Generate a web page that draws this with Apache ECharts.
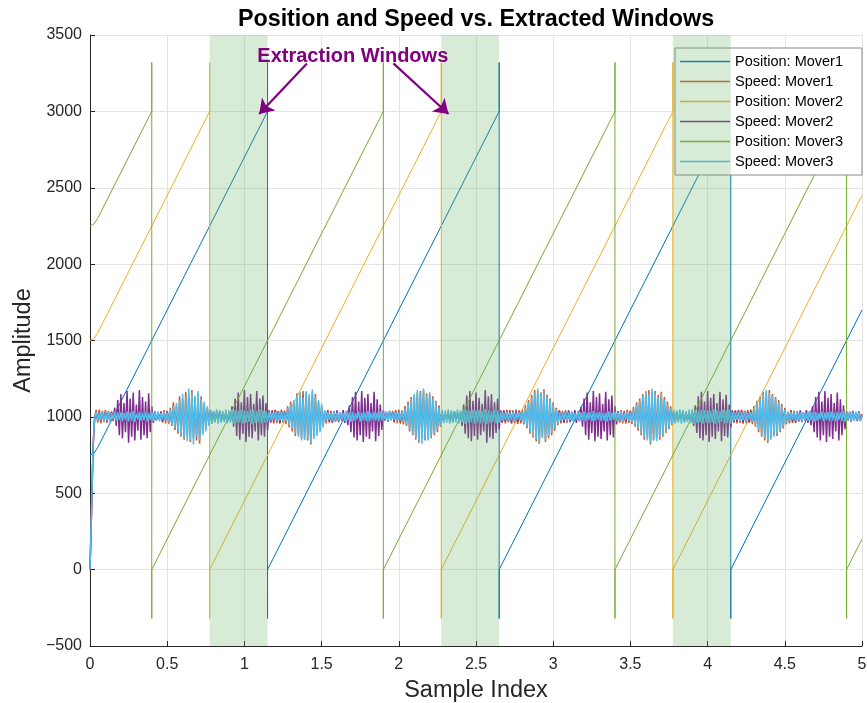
<!DOCTYPE html>
<html><head><meta charset="utf-8">
<script src="https://cdn.jsdelivr.net/npm/echarts@6/dist/echarts.min.js"></script>
<style>html,body{margin:0;padding:0;background:#fff}#c{width:867px;height:703px}</style>
</head><body><div id="c"></div>
<script>
// ---------------- data ----------------
const titleText = 'Position and Speed vs. Extracted Windows';
const xName = 'Sample Index';
const yName = 'Amplitude';
const seriesNames = ['Position: Mover1','Speed: Mover1','Position: Mover2','Speed: Mover2','Position: Mover3','Speed: Mover3'];
const xTicks = {min: 0, max: 5, interval: 0.5};
const yTicks = {min: -500, max: 3500, interval: 500};

// position sawtooth vertices [x, value]
const pos1 = [[0,750],[0.025,762],[0.05,800],[1.15,3000],[1.15,3320],[1.15,-320],[1.15,0],[2.65,3000],[2.65,3320],[2.65,-320],[2.65,0],[4.15,3000],[4.15,3320],[4.15,-320],[4.15,0],[5,1700]];
const pos2 = [[0,1500],[0.025,1512],[0.05,1550],[0.775,3000],[0.775,3320],[0.775,-320],[0.775,0],[2.275,3000],[2.275,3320],[2.275,-320],[2.275,0],[3.775,3000],[3.775,3320],[3.775,-320],[3.775,0],[5,2450]];
const pos3 = [[0,2250],[0.025,2262],[0.05,2300],[0.4,3000],[0.4,3320],[0.4,-320],[0.4,0],[1.9,3000],[1.9,3320],[1.9,-320],[1.9,0],[3.4,3000],[3.4,3320],[3.4,-320],[3.4,0],[4.9,3000],[4.9,3320],[4.9,-320],[4.9,0],[5,200]];

// speed samples, one every sampleStep on the x axis
const sampleStep = 0.01;
const speed1 = [
0,390,810,1000,1045,962,1048,958,1040,966,1044,960,1038,968,1035,972,1030,975,1028,978,
1015,986,1010,992,1018,983,1012,990,1009,987,1016,991,1011,984,1014,989,1020,980,1013,993,
1010,986,1017,982,1012,991,1038,962,1044,958,1040,955,1060,940,1095,915,1070,890,1135,870,
1120,850,1165,870,1150,835,1175,860,1125,845,1150,825,1135,890,1080,915,1060,950,1045,955,
1020,982,1016,986,1012,990,1018,984,1010,992,1015,987,1011,989,1017,983,1013,991,1009,986,
1016,990,1012,985,1018,988,1011,992,1014,984,1010,989,1017,986,1013,990,1040,962,1044,958,
1046,960,1038,955,1048,962,1042,952,1070,930,1100,905,1090,875,1155,885,1140,860,1170,850,
1160,845,1130,820,1165,870,1150,890,1095,915,1070,945,1040,958,1044,962,1040,965,1036,968,
1032,972,1015,990,1010,986,1017,983,1012,991,1018,985,1011,988,1016,984,1013,990,1019,982,
1012,989,1016,985,1010,992,1018,983,1014,988,1011,986,1017,990,1013,984,1040,962,1045,958,
1048,955,1042,950,1070,940,1100,905,1130,880,1140,850,1160,830,1170,860,1175,845,1155,855,
1150,860,1135,880,1105,900,1075,935,1018,985,1012,990,1016,984,1011,988,1015,986,1010,991,
1010,991,1017,983,1013,989,1018,985,1012,990,1016,984,1011,988,1014,986,1019,982,1010,991,
1015,987,1012,989,1017,984,1040,962,1044,958,1038,965,1046,956,1042,960,1048,954,1043,958,
1047,950,1075,925,1110,890,1145,865,1175,840,1170,825,1160,870,1180,835,1145,860,1120,880,
1095,910,1060,945,1045,957,1040,962,1044,960,1036,968,1016,985,1012,990,1018,984,1011,988,
1015,986,1010,991,1017,983,1013,989,1018,985,1012,990,1016,984,1011,988,1014,986,1019,982,
1013,990,1038,962,1044,958,1040,955,1046,960,1042,952,1065,935,1095,910,1120,880,1150,850,
1165,860,1175,820,1160,845,1170,855,1145,850,1165,870,1130,895,1100,920,1070,945,1020,983,
1015,988,1012,990,1017,984,1011,989,1016,986,1010,991,1018,983,1013,988,1012,990,1017,985,
1011,989,1015,986,1010,991,1018,983,1013,988,1016,984,1012,990,1014,987,1040,962,1045,958,
1042,960,1047,955,1040,958,1044,962,1048,952,1070,935,1105,900,1135,870,1165,845,1160,830,
1175,860,1150,880,1130,875,1110,900,1085,925,1060,950,1035,958,1045,960,1040,964,1036,968,
1016,986,1012,990,1017,983,1011,989,1015,987,1010,992,1018,984,1013,988,1016,985,1012,990,
1017,983,1011,989,1015,986,1010,991,1018,984,1013,988,1012,990,1016,985,1011,989,1027,972,
1020];
const speed2 = [
0,380,800,985,1020,985,1028,978,1018,990,1031,975,1024,986,1033,979,1060,940,1110,880,
1150,860,1090,900,1170,830,1120,870,1160,845,1080,910,1175,850,1130,880,1100,860,1155,900,
1070,960,1036,975,1022,984,1030,970,1019,988,1034,978,1025,966,1038,982,1021,973,1032,986,
1027,970,1035,980,1018,975,1031,987,1024,968,1037,979,1020,985,1033,972,1026,981,1029,969,
1034,977,1021,986,1036,970,1025,983,1030,974,1019,980,1070,935,1120,875,1160,850,1095,890,
1175,835,1130,870,1150,860,1085,905,1170,845,1120,880,1140,870,1090,915,1042,965,1038,972,
1045,968,1036,962,1040,975,1033,966,1039,970,1028,978,1035,984,1022,975,1031,988,1026,971,
1034,980,1020,986,1037,973,1025,968,1032,983,1038,976,1021,985,1040,970,1028,962,1035,978,
1042,966,1030,975,1044,960,1036,945,1075,900,1130,865,1165,845,1100,880,1170,835,1125,870,
1150,855,1090,905,1165,840,1115,875,1080,915,1045,975,1034,968,1040,980,1028,972,1036,985,
1025,970,1033,982,1019,976,1031,987,1024,969,1037,980,1020,985,1033,973,1026,981,1029,968,
1034,977,1021,986,1036,970,1025,983,1030,974,1019,988,1032,975,1024,966,1038,982,1021,973,
1032,940,1080,890,1140,860,1170,840,1105,875,1160,850,1125,880,1085,905,1175,830,1135,865,
1150,855,1095,895,1120,920,1042,965,1038,972,1045,968,1036,962,1040,975,1033,966,1039,970,
1028,978,1035,984,1022,975,1031,988,1026,971,1034,980,1020,986,1037,973,1025,968,1032,983,
1038,976,1021,985,1040,970,1028,962,1035,978,1042,966,1030,975,1044,960,1036,970,1065,935,
1120,880,1160,850,1095,895,1170,840,1130,870,1155,855,1085,905,1165,845,1115,880,1140,865,
1070,950,1036,975,1022,984,1030,970,1019,988,1034,978,1025,966,1038,982,1021,973,1032,986,
1027,970,1035,980,1018,975,1031,987,1024,968,1037,979,1020,985,1033,972,1026,981,1029,969,
1034,977,1021,986,1036,970,1025,983,1030,974,1019,940,1075,895,1135,860,1165,845,1100,880,
1170,835,1125,870,1150,855,1090,905,1165,840,1115,875,1145,865,1080,930,1042,965,1038,972,
1045,968,1036,962,1040,975,1033,966,1039,970,1028,978,1035,984,1022,975,1031,988,1026,971,
1034,980,1020,986,1037,973,1025,968,1032,983,1038,976,1021,985,1040,970,1028,962,1035,978,
1042,966,1030,975,1044,960,1036,945,1070,900,1130,865,1165,845,1100,880,1170,835,1125,870,
1150,855,1090,905,1160,845,1115,880,1075,920,1040,975,1034,968,1040,980,1028,972,1036,985,
1004];
const speed3 = [
0,400,820,990,1032,976,1026,981,1035,972,1028,978,1031,969,1024,984,1036,974,1027,980,
1030,973,1025,982,1034,970,1029,976,1037,968,1023,983,1032,975,1028,979,1035,971,1026,980,
1033,974,1029,977,1036,970,1024,983,1031,972,1028,966,1050,950,1075,930,1090,905,1110,880,
1150,860,1130,840,1185,850,1160,820,1140,870,1170,845,1120,880,1100,905,1070,940,1046,958,
1040,963,1049,955,1043,961,1038,966,1047,957,1041,962,1050,954,1044,960,1039,965,1048,956,
1042,961,1037,967,1051,953,1045,959,1040,964,1048,957,1043,962,1038,966,1032,975,1027,980,
1034,971,1029,977,1036,970,1030,968,1060,945,1080,925,1110,890,1140,870,1165,845,1125,850,
1170,860,1150,830,1180,855,1135,875,1110,900,1085,930,1045,975,1031,980,1026,972,1035,977,
1028,970,1033,982,1025,974,1036,979,1029,968,1032,976,1024,983,1035,971,1027,978,1030,973,
1037,969,1026,981,1033,975,1028,972,1034,978,1025,984,1031,970,1036,976,1027,980,1032,972,
1029,977,1035,968,1055,950,1085,920,1115,885,1150,860,1175,840,1160,825,1185,855,1140,845,
1165,870,1120,890,1095,915,1060,945,1045,959,1041,962,1049,956,1043,960,1038,965,1047,957,
1042,963,1050,954,1044,961,1039,966,1048,955,1041,962,1046,958,1040,964,1051,953,1043,960,
1038,967,1047,957,1042,961,1031,976,1026,981,1034,970,1028,978,1035,972,1025,983,1032,975,
1036,960,1065,935,1095,905,1130,875,1160,850,1185,830,1150,860,1170,845,1130,875,1110,895,
1080,925,1050,955,1030,976,1027,981,1034,971,1029,977,1036,969,1025,983,1032,974,1028,979,
1035,972,1026,980,1031,970,1037,976,1028,982,1033,973,1024,978,1030,969,1036,975,1027,981,
1032,972,1029,977,1035,970,1026,983,1031,974,1028,966,1050,945,1080,925,1105,890,1140,865,
1170,845,1150,830,1185,855,1160,840,1130,865,1155,880,1115,905,1085,930,1055,955,1047,957,
1041,962,1049,955,1044,960,1038,966,1046,958,1050,953,1043,961,1039,965,1048,956,1042,963,
1045,959,1040,964,1051,954,1044,960,1037,967,1047,957,1042,961,1049,955,1031,976,1027,980,
1034,971,1029,978,1036,969,1025,982,1031,968,1055,945,1090,915,1120,880,1150,860,1175,840,
1160,850,1140,870,1120,890,1095,910,1070,935,1045,960,1030,974,1033,979,1027,972,1035,977,
1028,970,1032,981,1026,974,1036,978,1029,969,1033,976,1025,982,1034,971,1028,979,1031,973,
1035,977,1027,970,1032,980,1029,974,1036,968,1026,981,1033,975,1028,972,1034,978,1030,976,
1004];

// extraction windows [start, end] and annotation
const windows = [[0.775,1.15],[2.275,2.65],[3.775,4.15]];
const annotationText = 'Extraction Windows';
const annotationAt = [1.702, 3358];
const arrows = [[[1.405,3314],[1.096,2983]],[[1.965,3314],[2.322,2983]]];

// ---------------- chart ----------------
const colors = ['#0072BD','#D95319','#EDB120','#7E2F8E','#77AC30','#4DBEEE'];
const widths = [1, 1.5, 1, 1.5, 1, 1.5];
const toXY = arr => arr.map((v, i) => [+(i * sampleStep).toFixed(4), v]);
const seriesData = [pos1, toXY(speed1), pos2, toXY(speed2), pos3, toXY(speed3)];
const font = 'Liberation Sans, Arial, Helvetica, sans-serif';
const ink = '#262626';
// thin horizontal line icon for the legend (tiny top/bottom slivers fix the icon box)
const lineIcon = 'path://M0,0H50V0.01H0Z M0,6.25H50V7.75H0Z M0,13.99H50V14H0Z';

const series = seriesNames.map((name, k) => ({
  name, type: 'line', data: seriesData[k], symbol: 'none', showSymbol: false,
  lineStyle: {color: colors[k], width: widths[k]}, itemStyle: {color: colors[k]},
  animation: false, silent: true, z: 2
}));
series.push({
  name: 'windows', type: 'line', data: [], symbol: 'none', z: 10, silent: true, animation: false,
  markArea: {
    silent: true, z: 10,
    itemStyle: {color: 'rgba(102,179,102,0.26)'},
    data: windows.map(w => [{xAxis: w[0]}, {xAxis: w[1]}])
  },
  markLine: {
    silent: true, z: 11, symbol: ['none', 'arrow'], symbolSize: 14,
    lineStyle: {color: '#800080', width: 2.2, type: 'solid'},
    label: {show: false},
    data: arrows.map(a => [{coord: a[0]}, {coord: a[1]}])
  },
  markPoint: {
    silent: true, z: 12, symbol: 'circle', symbolSize: 0,
    label: {show: true, formatter: annotationText, color: '#800080', fontWeight: 'bold', fontSize: 20, fontFamily: font},
    data: [{coord: annotationAt}]
  }
});

const chart = echarts.init(document.getElementById('c'), null, {renderer: 'canvas'});
chart.setOption({
  backgroundColor: '#fff',
  animation: false,
  title: {
    text: titleText, left: 471, top: 3, textAlign: 'center',
    textStyle: {fontFamily: font, fontWeight: 'bold', fontSize: 23.3, color: '#000'}
  },
  legend: {
    data: seriesNames.map((n, k) => ({name: n, icon: lineIcon,
      itemStyle: {color: colors[k], borderWidth: 0, opacity: 1}})),
    symbolKeepAspect: false,
    orient: 'vertical', right: 5, top: 48,
    backgroundColor: '#fff', borderColor: '#888', borderWidth: 1,
    padding: [6, 19, 6, 5], itemGap: 5, itemWidth: 50, itemHeight: 14,
    textStyle: {fontFamily: font, fontSize: 14.5, color: '#000'},
    selectedMode: false
  },
  grid: {left: 90, right: 5, top: 35, bottom: 57, containLabel: false, outerBoundsMode: 'none'},
  xAxis: {
    type: 'value', min: xTicks.min, max: xTicks.max, interval: xTicks.interval,
    name: xName, nameLocation: 'middle', nameGap: 33,
    nameTextStyle: {fontFamily: font, fontSize: 23.5, color: ink},
    axisLine: {show: true, onZero: false, lineStyle: {color: ink, width: 1}},
    axisTick: {show: true, inside: true, length: 5, lineStyle: {color: ink}},
    axisLabel: {fontFamily: font, fontSize: 16, color: ink, margin: 11},
    splitLine: {show: true, lineStyle: {color: '#e3e3e3', width: 1}}
  },
  yAxis: {
    type: 'value', min: yTicks.min, max: yTicks.max, interval: yTicks.interval,
    name: yName, nameLocation: 'middle', nameGap: 50, nameRotate: 90,
    nameTextStyle: {fontFamily: font, fontSize: 23.5, color: ink},
    axisLine: {show: true, onZero: false, lineStyle: {color: ink, width: 1}},
    axisTick: {show: true, inside: true, length: 5, lineStyle: {color: ink}},
    axisLabel: {fontFamily: font, fontSize: 16, color: ink, margin: 8,
      formatter: v => String(v).replace('-', '\u2212')},
    splitLine: {show: true, lineStyle: {color: '#e3e3e3', width: 1}}
  },
  series
});
</script></body></html>
